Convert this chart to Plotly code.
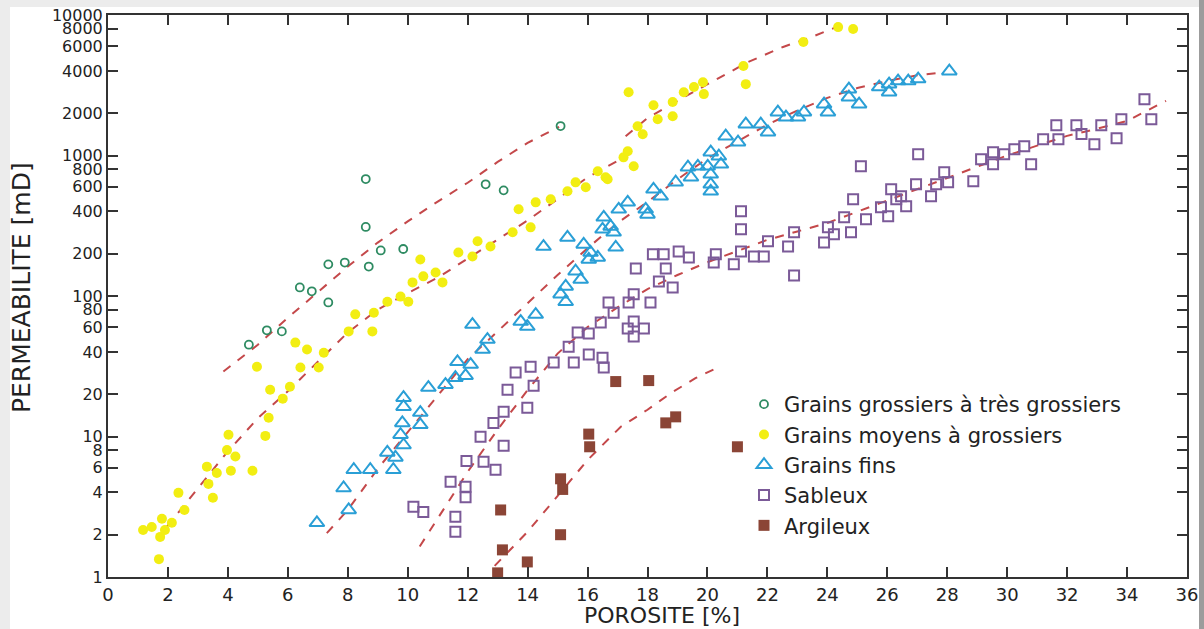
import plotly.graph_objects as go

# ---------------- data ----------------
gros_x = [4.7, 5.3, 5.8, 6.4, 6.8, 7.35, 7.35, 7.9, 8.6, 8.6, 8.7, 9.1, 9.85, 12.6, 13.2, 15.1]
gros_y = [45, 57, 56, 115, 108, 90, 168, 173, 680, 310, 162, 211, 216, 624, 565, 1620]

moy_x = [1.17, 1.46, 1.8, 1.74, 1.9, 2.13, 1.7, 2.35, 2.55, 3.3, 3.35, 3.63, 3.5, 4.02, 3.97,
         4.25, 4.1, 4.82, 4.97, 5.25, 5.36, 5.41, 5.83, 6.07, 6.25, 6.64, 6.42, 7.03, 7.2, 8.25,
         8.03, 8.87, 8.82, 9.32, 9.76, 10.02, 10.16, 10.52, 10.93, 11.16, 10.42, 11.69, 12.16, 12.33, 12.76,
         13.5, 13.7, 14.1, 14.27, 14.77, 15.33, 15.6, 15.94, 16.34, 16.6, 16.67, 17.2, 17.34, 17.54, 17.37,
         17.67, 17.84, 18.2, 18.34, 18.84, 18.84, 19.21, 19.55, 19.85, 19.88, 21.2, 21.28, 23.2, 24.36, 24.86]
moy_y = [2.16, 2.27, 2.6, 1.93, 2.16, 2.43, 1.34, 3.97, 3.0, 6.1, 4.6, 5.5, 3.66, 10.3, 8.0,
         7.2, 5.7, 5.7, 31.4, 10.1, 13.6, 21.5, 18.6, 22.6, 46.6, 41.6, 31, 31, 39.5, 74,
         56, 76, 56, 91, 99, 91, 125, 138, 147, 125, 182, 204, 191, 245, 225,
         284, 414, 308, 464, 488, 556, 644, 594, 772, 700, 677, 970, 1072, 838, 2820,
         1617, 1415, 2280, 1813, 2400, 1905, 2820, 3070, 3320, 2735, 4330, 3220, 6420, 8200, 7940]

fins_x = [6.97, 7.86, 8.03, 8.2, 8.75, 9.32, 9.59, 9.52, 9.86, 9.86, 9.82, 9.76, 9.86, 10.42, 10.42,
          10.69, 11.26, 11.66, 11.59, 11.93, 12.1, 12.16, 12.5, 12.66, 13.77, 13.99, 14.27, 14.53, 15.33, 15.27,
          15.1, 15.27, 15.6, 15.77, 15.87, 16.1, 16.04, 16.34, 16.54, 16.77, 16.87, 16.94, 16.5, 17.04, 17.34,
          17.94, 18.0, 18.2, 18.44, 18.94, 19.35, 19.68, 19.45, 20.01, 20.11, 20.38, 20.11, 20.11, 20.11, 20.45,
          20.61, 21.02, 21.28, 21.78, 22.02, 22.35, 22.62, 23.02, 23.22, 23.89, 24.02, 24.72, 24.72, 25.06, 25.73,
          26.06, 26.06, 26.36, 26.7, 27.03, 28.07]
fins_y = [2.43, 4.3, 3.0, 5.8, 5.8, 7.7, 7.1, 5.8, 18.9, 16.3, 12.5, 10.3, 8.7, 14.8, 12.1,
          22.3, 23.4, 34, 26.2, 27.1, 32.5, 62.6, 41.6, 49, 65.8, 60.6, 73.8, 225, 261, 117,
          103, 91, 150, 131, 233, 204, 182, 188, 363, 313, 284, 222, 298, 414, 464,
          414, 381, 575, 512, 645, 825, 838, 700, 838, 1055, 988, 735, 624, 556, 866,
          1372, 1243, 1670, 1670, 1465, 2033, 1875, 1875, 2033, 2318, 2033, 2967, 2600, 2318, 3070,
          3220, 2825, 3385, 3385, 3497, 3985]

sab_x = [10.19, 10.52, 11.43, 11.93, 11.93, 11.59, 11.59, 11.96, 12.53, 12.93, 13.2, 12.43, 12.86, 13.2, 13.99,
         13.33, 13.6, 14.1, 14.2, 14.87, 15.37, 15.54, 15.67, 16.04, 16.04, 16.5, 16.54, 16.44, 16.87, 16.7,
         17.37, 17.54, 17.34, 17.88, 17.54, 18.1, 17.54,
         21.12, 21.12, 18.18, 18.54, 19.04, 19.38, 17.61, 18.61, 18.38, 18.84, 20.28, 20.21, 20.88, 21.12,
         21.55, 21.88, 22.02, 22.69, 22.89, 22.89, 23.89, 24.02,
         24.22, 24.79, 24.56, 24.86, 25.12, 25.29, 25.79, 26.03, 26.13, 26.3, 26.46, 26.63, 26.96, 27.03, 27.46,
         27.63, 27.9, 28.03, 28.87, 29.13, 29.53, 29.53, 29.9, 30.24, 30.57, 30.8, 31.2, 31.71, 31.64, 32.31,
         32.48, 32.91, 33.14, 33.81, 33.65, 34.58, 34.81]
sab_y = [3.16, 2.9, 4.76, 4.38, 3.7, 2.68, 2.1, 6.7, 6.6, 5.8, 8.6, 9.96, 12.5, 15, 16,
         21.5, 28.5, 31.4, 23, 33.6, 43.6, 33.6, 55, 54, 38.3, 36.4, 31, 64.7, 76, 90,
         90, 65.8, 58.7, 58.7, 51.4, 90, 103,
         401, 298, 198, 198, 207, 188, 157, 157, 127, 115, 198, 173, 168, 207,
         191, 191, 245, 225, 284, 140, 240, 308,
         275, 284, 363, 488, 838, 352, 428, 369, 575, 488, 512, 435, 624, 1021, 512,
         624, 760, 645, 655, 940, 1055, 866, 1021, 1109, 1165, 866, 1306, 1306, 1644, 1644,
         1420, 1202, 1644, 1813, 1327, 2517, 1813]

arg_x = [13.1, 13.16, 13.0, 13.99, 15.1, 15.1, 15.17, 16.04, 16.07, 16.94, 18.04, 18.61, 18.94, 21.0]
arg_y = [3.0, 1.56, 1.07, 1.28, 2.0, 5.0, 4.2, 10.4, 8.45, 24.6, 25, 12.5, 13.8, 8.45]

# dashed trend curves
gros_fit_x = [3.85, 5, 6, 7, 8, 9, 10, 11, 12, 13, 14, 15.05]
gros_fit_y = [29, 45, 70, 107, 162, 240, 340, 470, 640, 900, 1230, 1600]
moy_fit_x = [1.96, 3, 3.97, 5, 6, 7, 8, 9, 10, 11, 12, 13, 14, 15, 16, 17.1,
             None, 17.27, 18, 19.1, 20, 21.35, 22.5, 23.5, 24.36]
moy_fit_y = [2.27, 4.3, 7.7, 13.5, 21, 34, 55, 80, 105, 135, 184, 252, 345, 490, 700, 940,
             None, 1370, 1850, 2520, 3200, 4620, 5900, 7000, 8300]
fins_fit_x = [7.3, 8, 9, 10, 11, 12, 13, 14, 15, 16, 17, 18, 19, 20, 21, 22, 23, 24, 25, 26, 27, 27.8]
fins_fit_y = [2.05, 3.0, 5.9, 10.7, 19.5, 35.5, 56, 89, 141, 219, 331, 468, 676, 955, 1260, 1660,
              2090, 2570, 3020, 3390, 3720, 3890]
sab_fit_x = [10.4, 11, 12, 13, 14, 15, 16, 17, 18, 19, 20, 21, 22, 23, 24, 25, 26, 27, 28, 29, 30,
             31, 32, 33, 34, 35.3]
sab_fit_y = [1.65, 2.63, 5.6, 11.2, 21.4, 38.9, 60, 83, 112, 141, 174, 209, 251, 288, 331, 398, 479,
             575, 692, 832, 1000, 1175, 1380, 1550, 1760, 2450]
arg_fit_x = [12.9, 14, 15.1, 16, 17.1, 18, 18.8, 19.6, 20.4]
arg_fit_y = [1.2, 2.1, 4.0, 6.8, 11.7, 15.5, 20.5, 26, 31.4]

x_ticks = list(range(0, 37, 2))
y_ticks = [1, 2, 4, 6, 8, 10, 20, 40, 60, 80, 100, 200, 400, 600, 800, 1000, 2000, 4000, 6000, 8000, 10000]

names = ["Grains grossiers à très grossiers", "Grains moyens à grossiers", "Grains fins", "Sableux", "Argileux"]
x_title = "POROSITE [%]"
y_title = "PERMEABILITE [mD]"

for a, b in [(gros_x, gros_y), (moy_x, moy_y), (fins_x, fins_y), (sab_x, sab_y), (arg_x, arg_y)]:
    assert len(a) == len(b)

# ---------------- figure ----------------
FONT = "DejaVu Sans"
TXT = "#222222"
fit_color = "#c4484a"

fig = go.Figure()

fits = [(gros_fit_x, gros_fit_y), (moy_fit_x, moy_fit_y), (fins_fit_x, fins_fit_y),
        (sab_fit_x, sab_fit_y), (arg_fit_x, arg_fit_y)]
for fx, fy in fits:
    fig.add_trace(go.Scatter(x=fx, y=fy, mode="lines", showlegend=False, hoverinfo="skip",
                             connectgaps=False,
                             line=dict(color=fit_color, width=2, dash="dash")))

fig.add_trace(go.Scatter(x=gros_x, y=gros_y, mode="markers", name=names[0],
                         marker=dict(symbol="circle-open", size=8, color="#2e8b62",
                                     line=dict(width=1.8, color="#2e8b62"))))
fig.add_trace(go.Scatter(x=moy_x, y=moy_y, mode="markers", name=names[1],
                         marker=dict(symbol="circle", size=10, color="#f2ee12")))
fig.add_trace(go.Scatter(x=fins_x, y=fins_y, mode="markers", name=names[2],
                         marker=dict(symbol="triangle-up-open", size=13, color="#2a9fd6",
                                     line=dict(width=2, color="#2a9fd6"))))
fig.add_trace(go.Scatter(x=sab_x, y=sab_y, mode="markers", name=names[3],
                         marker=dict(symbol="square-open", size=10, color="#7b5a98",
                                     line=dict(width=2, color="#7b5a98"))))
fig.add_trace(go.Scatter(x=arg_x, y=arg_y, mode="markers", name=names[4], cliponaxis=False,
                         marker=dict(symbol="square", size=11, color="#8b4536")))

# plot-area pixel geometry
L, R, T, B = 108, 17, 15, 52
W, H = 1204, 629
pw, ph = W - L - R, H - T - B


def px2x(p):
    return (p - L) / pw


def py2y(p):
    return (H - B - p) / ph


fig.update_layout(
    width=W, height=H,
    margin=dict(l=L, r=R, t=T, b=B, pad=0, autoexpand=False),
    paper_bgcolor="#ececec",
    plot_bgcolor="white",
    font=dict(family=FONT, color=TXT),
    showlegend=True,
    legend=dict(x=px2x(744), y=py2y(384), xanchor="left", yanchor="top",
                bgcolor="rgba(255,255,255,0)", font=dict(family=FONT, size=21, color=TXT),
                itemwidth=30, tracegroupgap=0),
    shapes=[
        dict(type="rect", xref="paper", yref="paper", layer="below",
             x0=px2x(10), x1=px2x(1199), y0=py2y(H + 5), y1=py2y(7),
             fillcolor="white", line=dict(width=0)),
        dict(type="rect", xref="paper", yref="paper", layer="below",
             x0=px2x(1199), x1=px2x(W + 5), y0=py2y(H + 5), y1=py2y(0),
             fillcolor="#9c9c9c", line=dict(width=0)),
    ],
    annotations=[
        dict(text=x_title, xref="paper", yref="paper", x=px2x(662), y=py2y(629),
             xanchor="center", yanchor="bottom", showarrow=False, borderpad=0,
             font=dict(family=FONT, size=22, color=TXT)),
        dict(text=y_title, xref="paper", yref="paper", x=px2x(21), y=py2y(288),
             xanchor="center", yanchor="middle", showarrow=False, textangle=-90,
             font=dict(family=FONT, size=25, color=TXT)),
    ],
)

fig.update_xaxes(range=[0, 36], tickmode="array", tickvals=x_ticks,
                 ticktext=[str(v) for v in x_ticks], automargin=False,
                 ticks="inside", ticklen=10, tickwidth=1.5, tickcolor="#333333",
                 showline=True, linecolor="#333333", linewidth=2, mirror="ticks",
                 showgrid=False, zeroline=False,
                 tickfont=dict(family=FONT, size=18, color=TXT))
fig.update_yaxes(type="log", range=[0, 4], tickmode="array", tickvals=y_ticks,
                 ticktext=[str(v) for v in y_ticks], automargin=False,
                 ticks="inside", ticklen=10, tickwidth=1.5, tickcolor="#333333",
                 showline=True, linecolor="#333333", linewidth=2, mirror="ticks",
                 showgrid=False, zeroline=False,
                 tickfont=dict(family=FONT, size=16, color=TXT))

# remove the default page margin so the figure sits at the window's top-left corner
page_fix = ("document.body.style.margin='0';document.body.style.padding='0';"
            "document.body.style.overflow='hidden';")
fig.write_html("out.html", post_script=page_fix, config={"displayModeBar": False})
